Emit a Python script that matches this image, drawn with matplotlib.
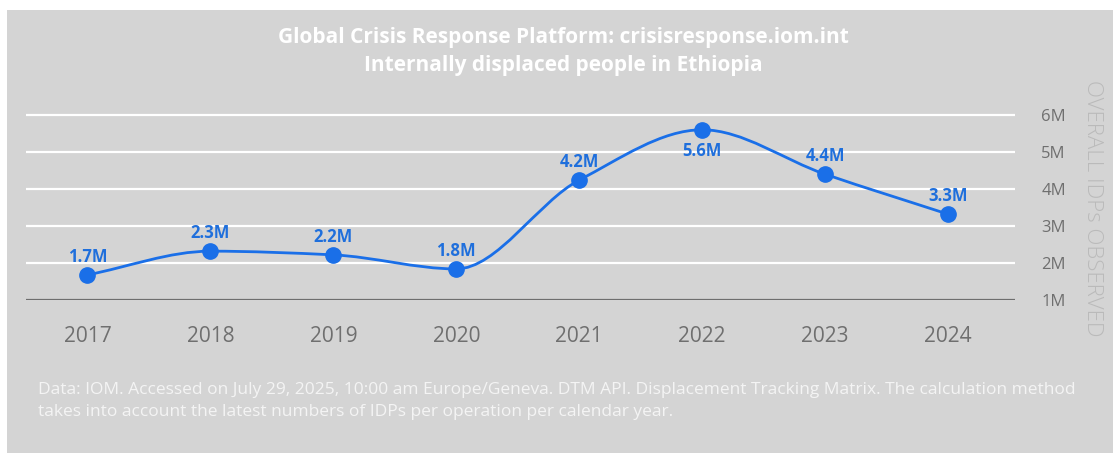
import matplotlib.pyplot as plt
from matplotlib.path import Path
from matplotlib.patches import PathPatch, Rectangle

# Data
years = ["2017", "2018", "2019", "2020", "2021", "2022", "2023", "2024"]
idps = [1.68, 2.32, 2.22, 1.84, 4.24, 5.60, 4.40, 3.32]  # millions
labels = ["1.7M", "2.3M", "2.2M", "1.8M", "4.2M", "5.6M", "4.4M", "3.3M"]
label_below = [False, False, False, False, False, True, False, False]
yticks = [1, 2, 3, 4, 5, 6]
ytick_labels = ["1M", "2M", "3M", "4M", "5M", "6M"]

bg = "#d4d4d4"
blue = "#1a6fe8"

plt.rcParams["font.family"] = ["Open Sans", "DejaVu Sans"]

fig = plt.figure(figsize=(11.13, 4.53), dpi=100)
fig.patch.set_facecolor("white")
fig.patches.append(Rectangle((7 / 1113, 0), 1, 1 - 10 / 453, transform=fig.transFigure,
                             facecolor=bg, edgecolor="none", zorder=-10))

ax = fig.add_axes([26 / 1113, 0.3377, (1015 - 26) / 1113, 0.4289])
ax.patch.set_alpha(0)

x = list(range(len(years)))
n = len(x)

# smooth line: monotone cubic (tangent 0 at local extremes), drawn as bezier path
d = [(idps[i + 1] - idps[i]) / (x[i + 1] - x[i]) for i in range(n - 1)]
m = [d[0]]
for i in range(1, n - 1):
    if d[i - 1] * d[i] <= 0:
        m.append(0.0)
    else:
        m.append(2 / (1 / d[i - 1] + 1 / d[i]))
m.append(d[-1])

verts = [(x[0], idps[0])]
codes = [Path.MOVETO]
for i in range(n - 1):
    h = (x[i + 1] - x[i]) / 3
    verts += [(x[i] + h, idps[i] + m[i] * h),
              (x[i + 1] - h, idps[i + 1] - m[i + 1] * h),
              (x[i + 1], idps[i + 1])]
    codes += [Path.CURVE4] * 3
ax.add_patch(PathPatch(Path(verts, codes), facecolor="none", edgecolor=blue, lw=2.0, zorder=3))
ax.plot(x, idps, "o", color=blue, markersize=11, zorder=4)

for xi, v, lab, below in zip(x, idps, labels, label_below):
    off = -21 if below else 18
    ax.annotate(lab, (xi, v), xytext=(0, off), textcoords="offset pixels",
                ha="center", va="center", color="#1f6fdc", fontsize=12, fontweight="bold", zorder=5)

ax.set_xlim(-0.5, 7.545)
ax.set_ylim(1, 6.25)
ax.set_yticks(yticks)
ax.set_yticklabels(ytick_labels)
ax.set_xticks(x)
ax.set_xticklabels(years)
for yv in yticks[1:]:
    ax.axhline(yv, color="white", lw=1.6, zorder=1)
ax.axhline(1, color="#6e6e6e", lw=1.6, zorder=2)

for s in ax.spines.values():
    s.set_visible(False)
ax.yaxis.tick_right()
ax.yaxis.set_label_position("right")
ax.tick_params(axis="y", length=0, pad=19, labelsize=12, labelcolor="#6f6f6f")
ax.tick_params(axis="x", length=0, pad=19, labelsize=15, labelcolor="#6f6f6f")
ax.set_ylabel("OVERALL IDPs OBSERVED", rotation=270, fontsize=16, fontweight="light",
              color="#bababa", va="center")
ax.yaxis.set_label_coords(1.078, 0.47)

fig.text(0.506, 1 - 38 / 453, "Global Crisis Response Platform: crisisresponse.iom.int",
         ha="center", va="center", color="white", fontsize=15, fontweight="bold")
fig.text(0.506, 1 - 66 / 453, "Internally displaced people in Ethiopia",
         ha="center", va="center", color="white", fontsize=15, fontweight="bold")

fig.text(38 / 1113, 1 - 390 / 453,
         "Data: IOM. Accessed on July 29, 2025, 10:00 am Europe/Geneva. DTM API. Displacement Tracking Matrix. The calculation method",
         ha="left", va="center", color="#f4f4f4", fontsize=12.5)
fig.text(38 / 1113, 1 - 412 / 453,
         "takes into account the latest numbers of IDPs per operation per calendar year.",
         ha="left", va="center", color="#f4f4f4", fontsize=12.5)

fig.savefig("out.png", dpi=100, facecolor=fig.get_facecolor())
